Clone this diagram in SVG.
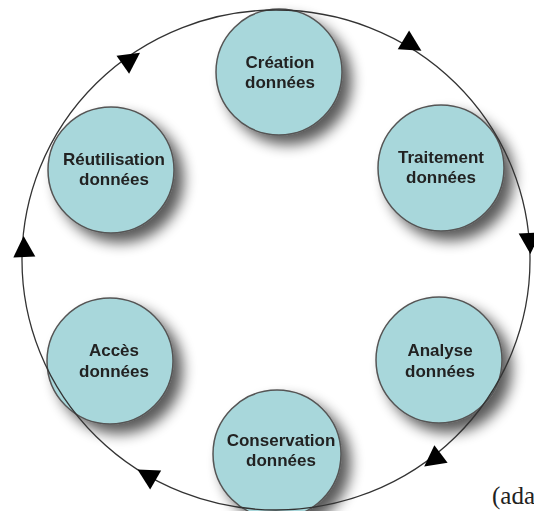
<svg xmlns="http://www.w3.org/2000/svg" width="534" height="511" viewBox="0 0 534 511">
  <defs>
    <filter id="shadow" x="-30%" y="-30%" width="170%" height="170%">
      <feGaussianBlur in="SourceAlpha" stdDeviation="7"/>
      <feOffset dx="9" dy="9" result="b"/>
      <feComponentTransfer><feFuncA type="linear" slope="0.65"/></feComponentTransfer>
      <feMerge><feMergeNode/><feMergeNode in="SourceGraphic"/></feMerge>
    </filter>
    <polygon id="arrow" points="11,0 -10,-11 -10,11" fill="#000"/>
  </defs>
  <style>
    .node circle { fill: #a8d7db; stroke: #555; stroke-width: 1.5; }
    .node text { font-family: "Liberation Sans", Arial, sans-serif; font-weight: bold; font-size: 17px; fill: #222; text-anchor: middle; }
    .ring { fill: none; stroke: #333; stroke-width: 1.3; }
    .note { font-family: "Liberation Serif", "Times New Roman", serif; font-size: 25px; fill: #222; }
  </style>
  <rect width="534" height="511" fill="#fff"/>

  <g id="node-creation" class="node" filter="url(#shadow)">
    <circle cx="279" cy="72" r="63"/>
    <text x="280" y="68">Création</text>
    <text x="280" y="88">données</text>
  </g>
  <g id="node-traitement" class="node" filter="url(#shadow)">
    <circle cx="441" cy="168" r="63"/>
    <text x="441" y="163">Traitement</text>
    <text x="441" y="183">données</text>
  </g>
  <g id="node-analyse" class="node" filter="url(#shadow)">
    <circle cx="439" cy="360" r="63"/>
    <text x="440" y="356">Analyse</text>
    <text x="440" y="377">données</text>
  </g>
  <g id="node-conservation" class="node" filter="url(#shadow)">
    <circle cx="277" cy="454" r="64"/>
    <text x="281" y="446">Conservation</text>
    <text x="281" y="466">données</text>
  </g>
  <g id="node-acces" class="node" filter="url(#shadow)">
    <circle cx="110" cy="361" r="63"/>
    <text x="114" y="356">Accès</text>
    <text x="114" y="377">données</text>
  </g>
  <g id="node-reutilisation" class="node" filter="url(#shadow)">
    <circle cx="111" cy="170" r="63"/>
    <text x="114" y="165">Réutilisation</text>
    <text x="114" y="185">données</text>
  </g>

  <g id="connectors">
    <ellipse class="ring" cx="276" cy="260" rx="254" ry="250"/>
    <use href="#arrow" transform="translate(412,45) rotate(31)"/>
    <use href="#arrow" transform="translate(530,243) rotate(88)"/>
    <use href="#arrow" transform="translate(433,460) rotate(143)"/>
    <use href="#arrow" transform="translate(147,475) rotate(210)"/>
    <use href="#arrow" transform="translate(24,247) rotate(-92)"/>
    <use href="#arrow" transform="translate(131,59) rotate(-35)"/>
  </g>

  <text class="note" x="492" y="504">(ada</text>
</svg>
